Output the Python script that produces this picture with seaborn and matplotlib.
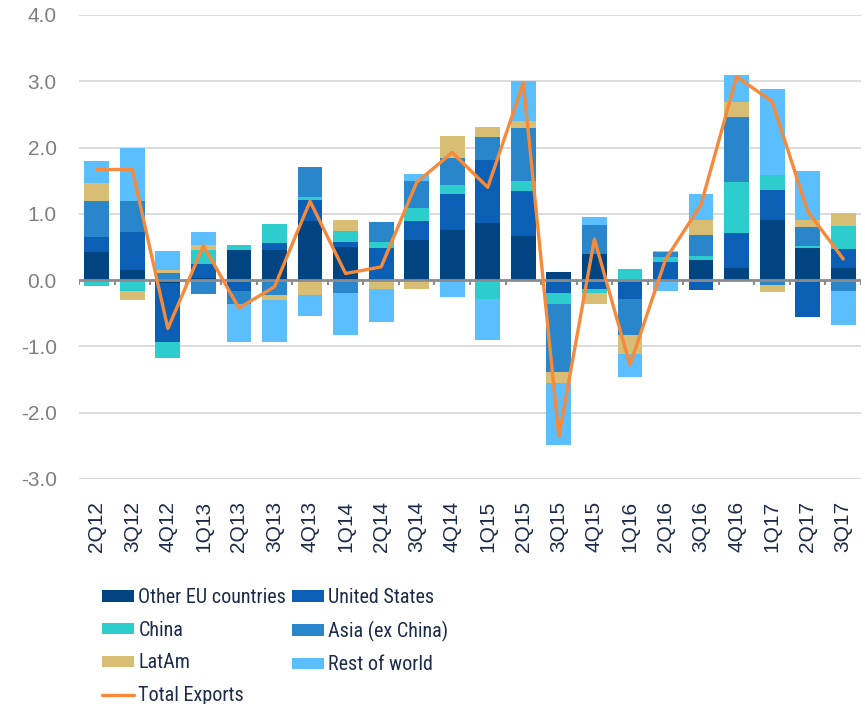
import numpy as np
import pandas as pd
import matplotlib
matplotlib.use("Agg")
import matplotlib.pyplot as plt
from matplotlib.patches import Patch
from matplotlib.lines import Line2D
from matplotlib.font_manager import FontProperties
import seaborn as sns

# Quarterly contributions to export growth by destination (pp)
quarters = ["2Q12", "3Q12", "4Q12", "1Q13", "2Q13", "3Q13", "4Q13", "1Q14",
            "2Q14", "3Q14", "4Q14", "1Q15", "2Q15", "3Q15", "4Q15", "1Q16",
            "2Q16", "3Q16", "4Q16", "1Q17", "2Q17", "3Q17"]

other_eu = [0.42, 0.16, -0.04, 0.03, 0.45, 0.45, 0.885, 0.50, 0.00, 0.61, 0.75,
            0.86, 0.66, 0.12, 0.39, 0.00, 0.02, 0.31, 0.18, 0.90, 0.48, 0.18]
united_states = [0.23, 0.57, -0.89, 0.22, -0.16, 0.11, 0.325, 0.075, 0.49, 0.28, 0.55,
                 0.95, 0.69, -0.20, -0.14, -0.29, 0.25, -0.155, 0.53, 0.46, -0.56, 0.29]
china = [-0.09, -0.17, -0.25, 0.21, 0.075, 0.28, 0.04, 0.165, 0.09, 0.20, 0.14,
         -0.29, 0.14, -0.165, -0.06, 0.175, 0.075, 0.05, 0.765, 0.23, 0.04, 0.35]
asia_ex_china = [0.55, 0.47, 0.11, -0.21, -0.20, -0.22, 0.46, -0.20, 0.29, 0.41, 0.41,
                 0.35, 0.80, -1.02, 0.44, -0.54, 0.075, 0.32, 0.99, -0.08, 0.28, -0.17]
latam = [0.27, -0.13, 0.05, 0.07, 0.00, -0.085, -0.225, 0.17, -0.14, -0.14, 0.32,
         0.15, 0.11, -0.165, -0.16, -0.29, 0.02, 0.22, 0.225, -0.105, 0.105, 0.19]
rest_of_world = [0.32, 0.79, 0.28, 0.19, -0.57, -0.63, -0.31, -0.625, -0.485, 0.10, -0.25,
                 -0.61, 0.60, -0.94, 0.125, -0.34, -0.16, 0.40, 0.40, 1.29, 0.74, -0.50]
total_exports = [1.67, 1.67, -0.73, 0.52, -0.42, -0.10, 1.19, 0.10, 0.20, 1.475, 1.925,
                 1.40, 2.975, -2.36, 0.62, -1.28, 0.31, 1.14, 3.07, 2.695, 1.04, 0.32]

series_names = ["Other EU countries", "United States", "China",
                "Asia (ex China)", "LatAm", "Rest of world"]
colors = ["#004481", "#0b5fb5", "#2dcccd", "#2a86ca", "#d8be75", "#5bbeff"]
line_color = "#f7893b"
navy = "#1c2b4a"

df = pd.DataFrame(dict(zip(series_names,
                           [other_eu, united_states, china, asia_ex_china, latam, rest_of_world])),
                  index=quarters)
pos_cum = df.clip(lower=0).cumsum(axis=1)
neg_cum = df.clip(upper=0).cumsum(axis=1)

sns.set_style("white")
plt.rcParams["font.family"] = ["Liberation Sans", "DejaVu Sans"]

fig = plt.figure(figsize=(8.65, 7.04), dpi=100)
ax = fig.add_axes([79 / 865, 1 - 479 / 704, (861 - 79) / 865, (479 - 15) / 704])

# stacked bars: draw cumulative sums from the outermost layer inwards
for name, col in reversed(list(zip(series_names, colors))):
    for cum in (pos_cum, neg_cum):
        sns.barplot(x=quarters, y=cum[name].values, color=col, saturation=1,
                    width=0.7, linewidth=0, errorbar=None, ax=ax, zorder=2)

# zero axis with category boundary ticks
ax.axhline(0, color="#8c8c8c", lw=2, zorder=3)
ax.vlines(np.arange(-0.5, len(quarters)), -0.08, 0, color="#8c8c8c", lw=1.5, zorder=3)

sns.lineplot(x=np.arange(len(quarters)), y=total_exports, color=line_color,
             linewidth=2.4, ax=ax, zorder=4)

ax.set_xlim(-0.5, len(quarters) - 0.5)
ax.set_ylim(-3, 4)
ax.set_yticks(np.arange(-3, 5, 1))
ax.set_yticklabels([f"{v:.1f}" for v in np.arange(-3, 5, 1)])
ax.set_xticks(np.arange(len(quarters)))
ax.set_xticklabels(quarters, rotation=90)
ax.tick_params(axis="y", length=0, pad=16, labelsize=15, labelcolor="#7f7f7f")
ax.tick_params(axis="x", length=0, pad=16, labelsize=15, labelcolor=navy)
ax.yaxis.grid(True, color="#d9d9d9", lw=1.3)
ax.set_axisbelow(True)
ax.set_xlabel("")
ax.set_ylabel("")
sns.despine(ax=ax, left=True, bottom=True)

patches = [Patch(facecolor=c, edgecolor="none") for c in colors]
line_handle = Line2D([0], [0], color=line_color, lw=2.4)
# ncol fills column-first, so reorder to read row by row
handles = [patches[0], patches[2], patches[4], line_handle, patches[1], patches[3], patches[5]]
labels = [series_names[0], series_names[2], series_names[4], "Total Exports",
          series_names[1], series_names[3], series_names[5]]
leg_font = FontProperties(family=["Roboto Condensed", "Liberation Sans Narrow",
                                  "Liberation Sans", "DejaVu Sans"], size=14.5)
leg = fig.legend(handles, labels, ncol=2, loc="upper left",
                 bbox_to_anchor=(102 / 865, 1 - 588 / 704), frameon=False,
                 prop=leg_font, handlelength=1.6, handleheight=0.5, handletextpad=0.2,
                 columnspacing=0.3, labelspacing=0.68, borderpad=0, borderaxespad=0)
for t in leg.get_texts():
    t.set_color(navy)

fig.savefig("out.png", dpi=100, facecolor="white")
